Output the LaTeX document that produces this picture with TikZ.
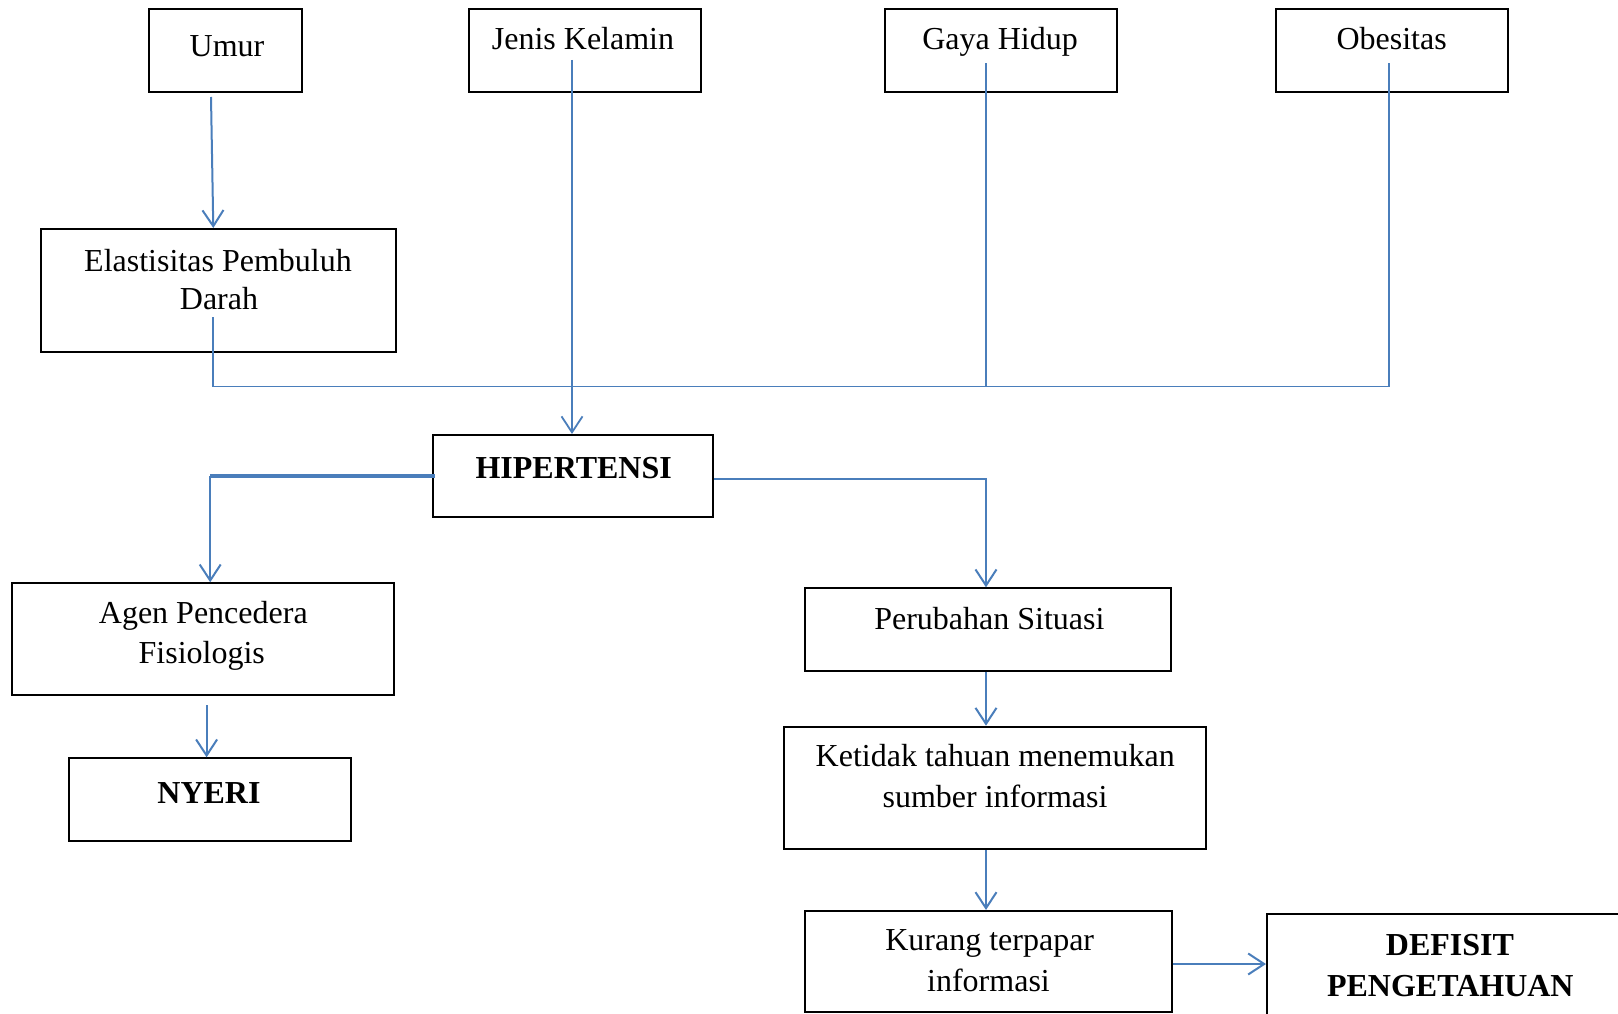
\documentclass[tikz,border=0pt]{standalone}
\usepackage{fontspec}
\setmainfont{Liberation Serif}
\usetikzlibrary{arrows.meta}
\definecolor{lblue}{RGB}{74,126,187}
\begin{document}
\begin{tikzpicture}[x=1pt,y=-1pt,
  box/.style={draw=black, line width=2pt, inner sep=0pt},
  txt/.style={font=\fontsize{32}{40}\selectfont, inner sep=0pt, anchor=base},
  btxt/.style={font=\fontsize{32}{40}\selectfont\bfseries, inner sep=0pt, anchor=base},
  conn/.style={draw=lblue, line width=2pt},
  arr/.style={conn, -{Straight Barb[length=16pt,width=21pt]}}]
\useasboundingbox[fill=white] (0,0) rectangle (1618,1014);

% boxes
\node[box, minimum width=153.5pt, minimum height=82.5pt] (umur) at (225.25,50.75) {};
\node[box, minimum width=231.5pt, minimum height=82.5pt] (jenis) at (584.75,50.75) {};
\node[box, minimum width=231.6pt, minimum height=82.5pt] (gaya) at (1001.1,50.75) {};
\node[box, minimum width=231.2pt, minimum height=82.5pt] (obes) at (1391.9,50.75) {};
\node[box, minimum width=355.1pt, minimum height=122.7pt] (elast) at (218.85,290.35) {};
\node[box, minimum width=280.6pt, minimum height=82.3pt] (hip) at (573,476.15) {};
\node[box, minimum width=382.2pt, minimum height=112pt] (agen) at (202.8,639.3) {};
\node[box, minimum width=281.6pt, minimum height=82.4pt] (nyeri) at (209.7,799.5) {};
\node[box, minimum width=366.3pt, minimum height=82.4pt] (perub) at (988.25,629.5) {};
\node[box, minimum width=421.9pt, minimum height=122.3pt] (ketid) at (995.25,787.85) {};
\node[box, minimum width=366.5pt, minimum height=101pt] (kurang) at (988.35,961.5) {};
\node[box, minimum width=373pt, minimum height=126pt] (defisit) at (1453.5,977) {};

% texts
\node[txt] (tumur) at (227,56.5) {Umur};
\node[txt] (tjenis) at (583,50) {Jenis Kelamin};
\node[txt] (tgaya) at (1000,50) {Gaya Hidup};
\node[txt] (tobes) at (1391.6,50) {Obesitas};
\node[txt] (telast1) at (218,271.7) {Elastisitas Pembuluh};
\node[txt] (telast2) at (219,309.3) {Darah};
\node[btxt] (thip) at (573.7,478.3) {HIPERTENSI};
\node[txt] (tagen1) at (203.3,623.3) {Agen Pencedera};
\node[txt] (tagen2) at (201.8,663.3) {Fisiologis};
\node[btxt] (tnyeri) at (209,803.3) {NYERI};
\node[txt] (tperub) at (989.4,629.3) {Perubahan Situasi};
\node[txt] (tketid1) at (995.2,766.7) {Ketidak tahuan menemukan};
\node[txt] (tketid2) at (995,807.7) {sumber informasi};
\node[txt] (tkurang1) at (989.7,950) {Kurang terpapar};
\node[txt] (tkurang2) at (988.5,991.7) {informasi};
\node[btxt] (tdef1) at (1450,955) {DEFISIT};
\node[btxt] (tdef2) at (1450.3,996.7) {PENGETAHUAN};

% coordinates
\coordinate (u0) at (211,97);
\coordinate (u1) at (213.3,0);
\coordinate (j0) at (572,60);
\coordinate (e0) at (213.3,317.3);
\coordinate (bus) at (0,386.5);
\coordinate (g0) at (986,63.3);
\coordinate (o0) at (1388.6,63.3);
\coordinate (hl) at (434.7,476);
\coordinate (a0) at (210.2,0);
\coordinate (hr) at (0,478.7);
\coordinate (n0) at (206.6,705);
\coordinate (kd) at (0,964);

% connectors
\draw[arr] (u0) -- (u1 |- elast.north);
\draw[arr, line width=1.8pt] (j0) -- (j0 |- hip.north);
\draw[conn, line width=1.8pt] (e0) -- (e0 |- bus) -- (o0 |- bus) -- (o0);
\draw[conn, line width=1.8pt] (g0) -- (g0 |- bus);
\draw[conn, line width=3.5pt] (hl) -- (a0 |- hl);
\draw[arr] (a0 |- hl) -- (a0 |- agen.north);
\draw[arr] (hip.east |- hr) -- (g0 |- hr) -- (g0 |- perub.north);
\draw[arr] (n0) -- (n0 |- nyeri.north);
\draw[arr] (perub.south -| g0) -- (g0 |- ketid.north);
\draw[arr] (ketid.south -| g0) -- (g0 |- kurang.north);
\draw[arr] (kurang.east |- kd) -- (defisit.west |- kd);
\end{tikzpicture}
\end{document}
